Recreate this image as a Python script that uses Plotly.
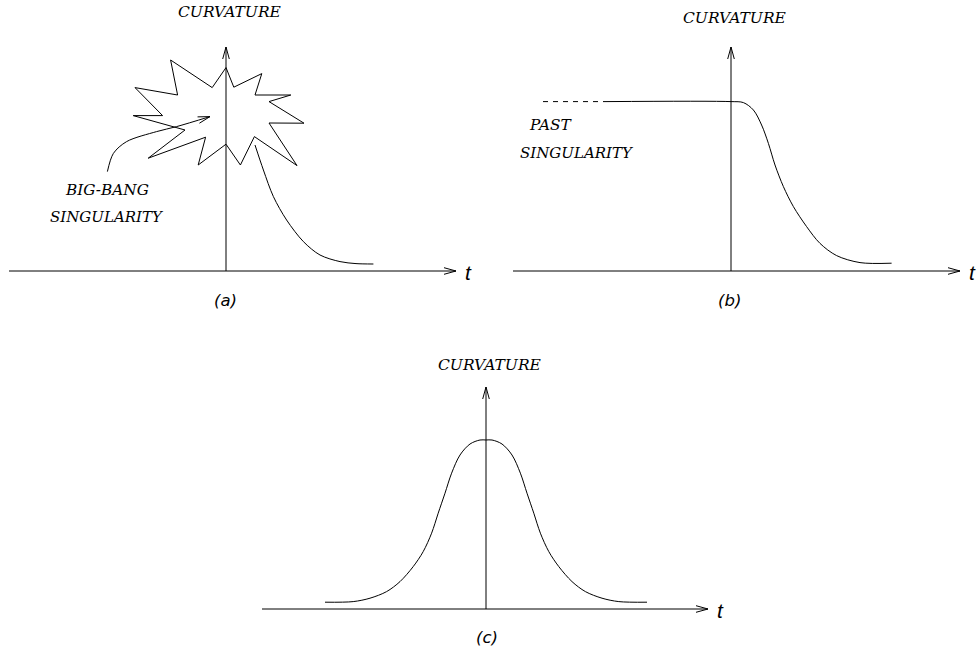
import plotly.graph_objects as go

# ---------------- data (units: t, curvature; origin at axes crossing) ----------------
# Panel (a): big-bang star outline (vertices) and decaying curvature
star_t = [0.0, 0.39, 1.79, 1.45, 3.24, 2.15, 3.9, 2.15, 3.55, 1.42, 0.72, 0.0, -1.39, -1.02,
          -3.89, -2.05, -4.64, -3.17, -4.55, -2.42, -2.77, -0.69]
star_k = [10.17, 9.19, 9.87, 8.8, 8.8, 8.47, 7.39, 7.4, 5.27, 6.72, 5.3, 6.34, 5.3, 6.69,
          5.64, 7.05, 7.77, 7.77, 9.17, 8.8, 10.55, 9.17]
a_t = [1.45, 1.87, 2.37, 3.03, 3.87, 4.7, 5.7, 6.5, 7.37]
a_k = [6.3, 5.05, 3.72, 2.55, 1.47, 0.8, 0.47, 0.37, 0.35]
pointer_t = [-5.93, -5.63, -4.97, -3.47, -2.47, -0.8]
pointer_k = [4.97, 5.88, 6.47, 6.97, 7.22, 7.72]

# Panel (b): constant past curvature then decay
b_dash_t = [-9.4, -6.25]
b_dash_k = [8.47, 8.47]
b_t = [-6.25, 0.0, 0.62, 1.12, 1.53, 1.87, 2.2, 2.62, 3.12, 3.78, 4.45, 5.28, 6.45, 8.03]
b_k = [8.47, 8.47, 8.42, 8.05, 7.3, 6.38, 5.3, 4.22, 3.22, 2.22, 1.38, 0.77, 0.42, 0.39]

# Panel (c): bell-shaped curvature
c_t = [-8.05, -6.64, -5.8, -4.97, -4.3, -3.64, -3.14, -2.72, -2.39, -2.05, -1.72, -1.3, -0.8,
       -0.3, 0.0, 0.3, 0.8, 1.3, 1.72, 2.05, 2.39, 2.72, 3.14, 3.64, 4.3, 4.97, 5.8, 6.64, 8.05]
c_k = [0.34, 0.37, 0.54, 0.87, 1.37, 2.12, 2.87, 3.79, 4.79, 5.79, 6.79, 7.7, 8.25,
       8.45, 8.45, 8.45, 8.25, 7.7, 6.79, 5.79, 4.79, 3.79, 2.87, 2.12, 1.37, 0.87, 0.54, 0.37, 0.34]

# axis extents for each panel: (t_min, t_max, k_top)
axis_ext = {"a": (-10.85, 11.5, 11.2), "b": (-10.9, 11.45, 11.2), "c": (-11.2, 11.1, 11.1)}

# ---------------- layout helpers ----------------
W, H = 977, 649
S = 20.0  # pixels per unit
panels = {
    # name: (px_x0, px_x1, px_y0, px_y1, origin_px_x, origin_px_y)
    "a": (0, 480, 0, 320, 226, 271),
    "b": (490, 977, 0, 320, 731, 271),
    "c": (240, 740, 330, 649, 486, 609),
}
axid = {"a": ("x", "y"), "b": ("x2", "y2"), "c": ("x3", "y3")}

fig = go.Figure()
BLACK = "#000000"
LW = 1


def add_line(p, xs, ys, shape="linear", dash="solid", smoothing=0.9):
    xa, ya = axid[p]
    line = dict(color=BLACK, width=LW, shape=shape, dash=dash)
    if shape == "spline":
        line["smoothing"] = smoothing
    fig.add_trace(go.Scatter(x=xs, y=ys, mode="lines", xaxis=xa, yaxis=ya, line=line,
                             hoverinfo="skip", showlegend=False, cliponaxis=False))


def add_head(p, tip, frm, length=12 / S, half=3.3 / S):
    dx, dy = tip[0] - frm[0], tip[1] - frm[1]
    n = (dx * dx + dy * dy) ** 0.5
    ux, uy = dx / n, dy / n
    bx, by = tip[0] - ux * length, tip[1] - uy * length
    px, py = -uy, ux
    add_line(p, [bx + px * half, tip[0], bx - px * half],
             [by + py * half, tip[1], by - py * half])


def text(p, x, y, s, size=15, family="DejaVu Serif"):
    xa, ya = axid[p]
    fig.add_annotation(x=x, y=y, xref=xa, yref=ya, text="<i>" + s + "</i>", showarrow=False,
                       font=dict(family=family, size=size, color=BLACK),
                       xanchor="center", yanchor="middle")


for p in "abc":
    t0, t1, ktop = axis_ext[p]
    add_line(p, [t0, t1], [0, 0])
    add_head(p, (t1, 0), (t0, 0))
    add_line(p, [0, 0], [0, ktop])
    add_head(p, (0, ktop), (0, 0))

# panel (a)
add_line("a", star_t + [star_t[0]], star_k + [star_k[0]])
add_line("a", a_t, a_k, shape="spline")
add_line("a", pointer_t, pointer_k, shape="spline")
add_head("a", (pointer_t[-1], pointer_k[-1]), (pointer_t[-2], pointer_k[-2]))
# panel (b)
add_line("b", b_dash_t, b_dash_k, dash="5px,5px")
add_line("b", b_t, b_k, shape="spline")
# panel (c)
add_line("c", c_t, c_k, shape="spline")

# labels
text("a", 0.2, 12.95, "CURVATURE", 15.5)
text("b", 0.18, 12.63, "CURVATURE", 15.5)
text("c", 0.18, 12.2, "CURVATURE", 15.5)
text("a", -5.95, 4.05, "BIG-BANG", 15.3)
text("a", -5.93, 2.7, "SINGULARITY", 15)
text("b", -9.05, 7.3, "PAST", 15.3)
text("b", -7.68, 5.92, "SINGULARITY", 15)
for p, ty in (("a", -0.05), ("b", -0.05), ("c", -0.05)):
    text(p, axis_ext[p][1] + 0.6, ty, "t", 21, "Liberation Sans")
text("a", -0.02, -1.45, "(a)", 16.5, "DejaVu Sans")
text("b", -0.1, -1.45, "(b)", 16.5, "DejaVu Sans")
text("c", 0.05, -1.4, "(c)", 16.5, "DejaVu Sans")

layout = dict(width=W, height=H, margin=dict(l=0, r=0, t=0, b=0),
              paper_bgcolor="white", plot_bgcolor="white", showlegend=False)
for i, p in enumerate("abc"):
    x0, x1, y0, y1, ox, oy = panels[p]
    sfx = "" if i == 0 else str(i + 1)
    layout["xaxis" + sfx] = dict(domain=[x0 / W, x1 / W], range=[(x0 - ox) / S, (x1 - ox) / S],
                                 visible=False, fixedrange=True)
    layout["yaxis" + sfx] = dict(domain=[1 - y1 / H, 1 - y0 / H], range=[(oy - y1) / S, (oy - y0) / S],
                                 visible=False, fixedrange=True)
fig.update_layout(**layout)
fig.write_html("out.html", config={"displayModeBar": False},
               post_script="document.body.style.margin='0';document.body.style.overflow='hidden';")
